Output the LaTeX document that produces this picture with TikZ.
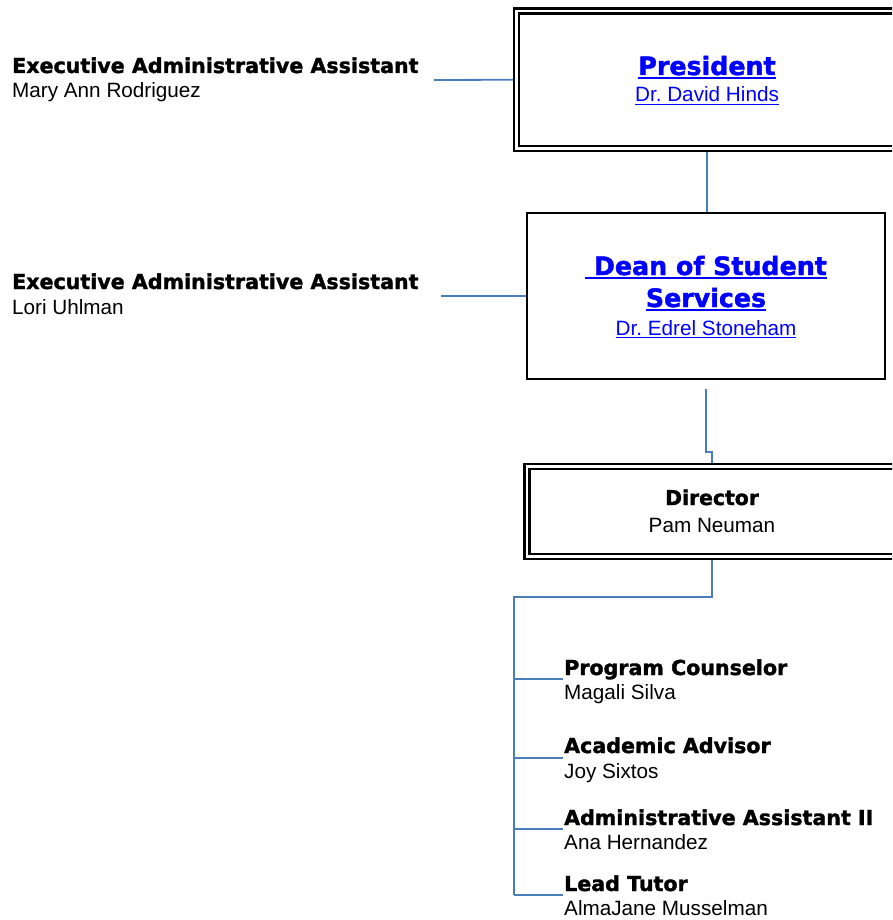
\documentclass[tikz,border=0pt]{standalone}
\usepackage{fontspec}
\setmainfont{Liberation Sans}
\newfontfamily\hdfont{DejaVu Sans}[BoldFeatures={FakeBold=1.6}]
\definecolor{connblue}{RGB}{74,126,187}
\definecolor{linkblue}{RGB}{0,0,255}
\frenchspacing
\newcommand\myul[3]{\setbox0=\hbox{#3}\rlap{\rule[-#1]{\wd0}{#2}}\box0}
\tikzset{
  conn/.style={draw=connblue, line width=1.8pt},
  dblbox/.style={rectangle, draw=black, line width=2.4pt, double=white, double distance=2.4pt, fill=white, inner sep=0pt, outer sep=3.6pt},
  sglbox/.style={rectangle, draw=black, line width=2pt, fill=white, inner sep=0pt, outer sep=1pt},
  title/.style={font=\hdfont\bfseries\fontsize{20.6}{24}\selectfont, anchor=base west, inner sep=0pt},
  pname/.style={font=\fontsize{20.7}{24}\selectfont, anchor=base west, inner sep=0pt},
  ctitle/.style={font=\hdfont\bfseries\fontsize{20.4}{24}\selectfont, anchor=base, inner sep=0pt},
  cname/.style={font=\fontsize{20.7}{24}\selectfont, anchor=base, inner sep=0pt},
  bigtitle/.style={font=\hdfont\bfseries\fontsize{25.3}{30}\selectfont, text=linkblue, anchor=base, inner sep=0pt},
  linkname/.style={font=\fontsize{20.7}{24}\selectfont, text=linkblue, anchor=base, inner sep=0pt},
}
\begin{document}
\begin{tikzpicture}[x=1pt,y=-1pt]
\useasboundingbox (0,0) rectangle (892,920);
\clip (0,0) rectangle (892,920);
% boxes
\node[dblbox, minimum width=381pt, minimum height=137.5pt] (pres) at (707,79.75) {};
\node[sglbox, minimum width=358.3pt, minimum height=166pt] (dean) at (705.9,296) {};
\node[dblbox, minimum width=370pt, minimum height=90pt] (dir) at (712,511.5) {};
% box texts
\node[bigtitle] (prest) at (707,75) {\myul{4pt}{2pt}{President}};
\node[linkname] (presn) at (707,102) {\myul{3.2pt}{1.3pt}{Dr. David Hinds}};
\node[bigtitle] (deant1) at (706,275) {\myul{4pt}{2pt}{\ Dean of Student}};
\node[bigtitle] (deant2) at (706,307) {\myul{4pt}{2pt}{Services}};
\node[linkname] (deann) at (706,335) {\myul{3.2pt}{1.3pt}{Dr. Edrel Stoneham}};
\node[ctitle] (dirt) at (712,505) {Director};
\node[cname] (dirn) at (712,532) {Pam Neuman};
% assistants
\node[title] (ea1t) at (12,73) {Executive Administrative Assistant};
\node[pname] (ea1n) at (12,98) {Mary Ann Rodriguez};
\node[title] (ea2t) at (12,289) {Executive Administrative Assistant};
\node[pname] (ea2n) at (12,314) {Lori Uhlman};
% staff
\node[title] (pct) at (564,675) {Program Counselor};
\node[pname] (pcn) at (564,699) {Magali Silva};
\node[title] (aat) at (564,753) {Academic Advisor};
\node[pname] (aan) at (564,778) {Joy Sixtos};
\node[title] (ast) at (564,825) {Administrative Assistant II};
\node[pname] (asn) at (564,849) {Ana Hernandez};
\node[title] (ltt) at (564,891) {Lead Tutor};
\node[pname] (ltn) at (564,915) {AlmaJane Musselman};
% connectors
\coordinate (e1) at (434,80);
\coordinate (e2) at (441,296);
\coordinate (d1) at (706,389);
\coordinate (d2) at (712,452);
\coordinate (tr) at (514,597);
\coordinate (bpc) at (563,679);
\coordinate (baa) at (563,758);
\coordinate (bas) at (563,829);
\coordinate (blt) at (563,895);
\draw[conn] (e1) -- (pres.west);
\draw[conn] (e2) -- (dean.west);
\draw[conn] (pres.south) -- (pres.south |- dean.north);
\draw[conn] (d1) |- (d2) -- (dir.north);
\draw[conn] (dir.south) |- (tr) -- (tr |- blt);
\draw[conn] (tr |- bpc) -- (bpc);
\draw[conn] (tr |- baa) -- (baa);
\draw[conn] (tr |- bas) -- (bas);
\draw[conn] (tr |- blt) -- (blt);
\end{tikzpicture}
\end{document}
